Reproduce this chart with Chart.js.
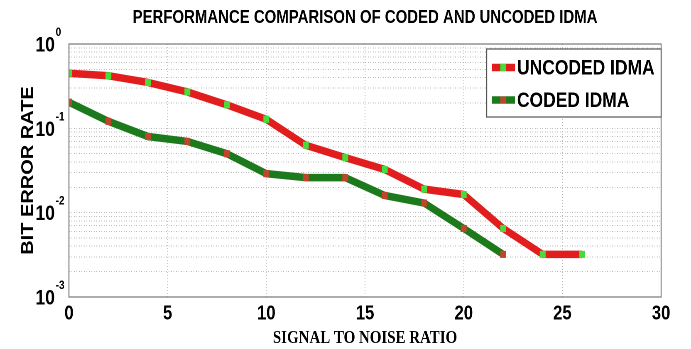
<!DOCTYPE html>
<html><head><meta charset="utf-8">
<script src="https://cdn.jsdelivr.net/npm/chart.js@4.4.1/dist/chart.umd.min.js"></script>
<style>
html,body{margin:0;padding:0;background:#fff;overflow:hidden;width:691px;height:349px;}
#wrap{position:absolute;left:0;top:0;width:832px;height:349px;transform:scaleX(0.830529);transform-origin:0 0;}
</style></head><body>
<div id="wrap"><canvas id="c" width="832" height="349" style="width:832px;height:349px"></canvas></div>
<script>
const chartTitle = 'PERFORMANCE COMPARISON OF CODED AND UNCODED IDMA';
const xAxisTitle = 'SIGNAL TO NOISE RATIO';
const yAxisTitle = 'BIT ERROR RATE';
const seriesNames = ['UNCODED IDMA', 'CODED IDMA'];
const snrUncoded = [0, 2, 4, 6, 8, 10, 12, 14, 16, 18, 20, 22, 24, 26];
const berUncoded = [0.45, 0.42, 0.35, 0.27, 0.19, 0.128, 0.063, 0.045, 0.0325, 0.019, 0.0164, 0.0065, 0.0032, 0.0032];
const snrCoded = [0, 2, 4, 6, 8, 10, 12, 14, 16, 18, 20, 22];
const berCoded = [0.204, 0.121, 0.080, 0.070, 0.050, 0.029, 0.026, 0.026, 0.016, 0.013, 0.0065, 0.0032];
const xTicks = [0, 5, 10, 15, 20, 25, 30];
const yDecadeExponents = [-3, -2, -1, 0];
const yMinorMultipliers = [1, 2, 3, 4, 5, 6, 7, 8, 9];

const SANS = '"Liberation Sans", Arial, Helvetica, sans-serif';
const SERIF = '"Liberation Serif", "Times New Roman", serif';

const yTickValues = [];
yDecadeExponents.forEach((e, i) => {
  if (i === yDecadeExponents.length - 1) { yTickValues.push(Math.pow(10, e)); return; }
  yMinorMultipliers.forEach(m => yTickValues.push(m * Math.pow(10, e)));
});

const decorPlugin = {
  id: 'decor',
  afterDraw(chart) {
    const ctx = chart.ctx, a = chart.chartArea, ys = chart.scales.y;
    ctx.save();
    // axes box
    ctx.strokeStyle = '#777'; ctx.lineWidth = 1.2;
    ctx.strokeRect(a.left, a.top, a.right - a.left, a.bottom - a.top);
    // y tick labels with superscript exponents
    ctx.fillStyle = '#000';
    yDecadeExponents.forEach(e => {
      const y = ys.getPixelForValue(Math.pow(10, e));
      const xr = a.left - 17;
      ctx.font = 'bold 21px ' + SANS;
      ctx.textAlign = 'right'; ctx.textBaseline = 'alphabetic';
      ctx.fillText('10', xr, y + 7.5);
      ctx.font = 'bold 12px ' + SANS;
      ctx.textAlign = 'left';
      ctx.fillText(String(e), xr + 1, y - 8);
    });
    // title
    ctx.font = 'bold 18px ' + SANS;
    ctx.textAlign = 'center'; ctx.textBaseline = 'middle';
    ctx.fillText(chartTitle, (a.left + a.right) / 2, 18);
    // legend
    const bx = 586, by = 49, bw = a.right - 586, bh = 68;
    ctx.fillStyle = '#fff';
    ctx.fillRect(bx, by, bw, bh);
    ctx.strokeStyle = '#555'; ctx.lineWidth = 1.2;
    ctx.strokeRect(bx, by, bw, bh);
    const rows = [67.5, 100];
    chart.data.datasets.forEach((ds, i) => {
      const cy = rows[i];
      ctx.strokeStyle = ds.borderColor; ctx.lineWidth = 7.5; ctx.lineCap = 'butt';
      ctx.beginPath(); ctx.moveTo(592, cy); ctx.lineTo(620, cy); ctx.stroke();
      ctx.fillStyle = ds.pointBackgroundColor;
      ctx.fillRect(602.5, cy - 3.5, 7, 7);
      ctx.fillStyle = '#000';
      ctx.font = 'bold 21px ' + SANS;
      ctx.textAlign = 'left'; ctx.textBaseline = 'middle';
      ctx.fillText(ds.label, 622.5, cy + 1);
    });
    ctx.restore();
  }
};

new Chart(document.getElementById('c'), {
  type: 'line',
  data: {
    datasets: [
      {
        label: seriesNames[0],
        data: snrUncoded.map((x, i) => ({x: x, y: berUncoded[i]})),
        borderColor: '#e21d1d', backgroundColor: '#e21d1d',
        borderWidth: 7.5, tension: 0, fill: false,
        pointStyle: 'rect', pointRadius: 5, pointBorderWidth: 0,
        pointBackgroundColor: '#44dd3a'
      },
      {
        label: seriesNames[1],
        data: snrCoded.map((x, i) => ({x: x, y: berCoded[i]})),
        borderColor: '#1c7a1c', backgroundColor: '#1c7a1c',
        borderWidth: 7.5, tension: 0, fill: false,
        pointStyle: 'rect', pointRadius: 5, pointBorderWidth: 0,
        pointBackgroundColor: '#c0452c'
      }
    ]
  },
  options: {
    responsive: false,
    animation: false,
    devicePixelRatio: 2,
    layout: {padding: {left: 20, right: 36, top: 44, bottom: 0}},
    plugins: {legend: {display: false}, title: {display: false}, tooltip: {enabled: false}},
    scales: {
      x: {
        type: 'linear', min: 0, max: 30,
        afterBuildTicks: s => { s.ticks = xTicks.map(v => ({value: v})); },
        afterFit: s => { s.height = 52; },
        ticks: {color: '#000', font: {family: SANS, size: 20, weight: 'bold'}, padding: 5, maxRotation: 0},
        grid: {color: '#b8b8b8', lineWidth: 1, drawTicks: false},
        border: {display: false, dash: [1, 2]},
        title: {display: true, text: xAxisTitle, color: '#000', padding: {top: 0, bottom: 0},
                font: {family: SERIF, size: 18, weight: 'bold'}}
      },
      y: {
        type: 'logarithmic', min: 0.001, max: 1,
        afterBuildTicks: s => { s.ticks = yTickValues.map(v => ({value: v})); },
        afterFit: s => { s.width = 63; },
        ticks: {display: false},
        grid: {color: '#b8b8b8', lineWidth: 1, drawTicks: false},
        border: {display: false, dash: [1, 2]},
        title: {display: true, text: yAxisTitle, color: '#000', padding: {top: 2, bottom: 0},
                font: {family: SANS, size: 20, weight: 'bold'}}
      }
    }
  },
  plugins: [decorPlugin]
});
</script>
</body></html>
